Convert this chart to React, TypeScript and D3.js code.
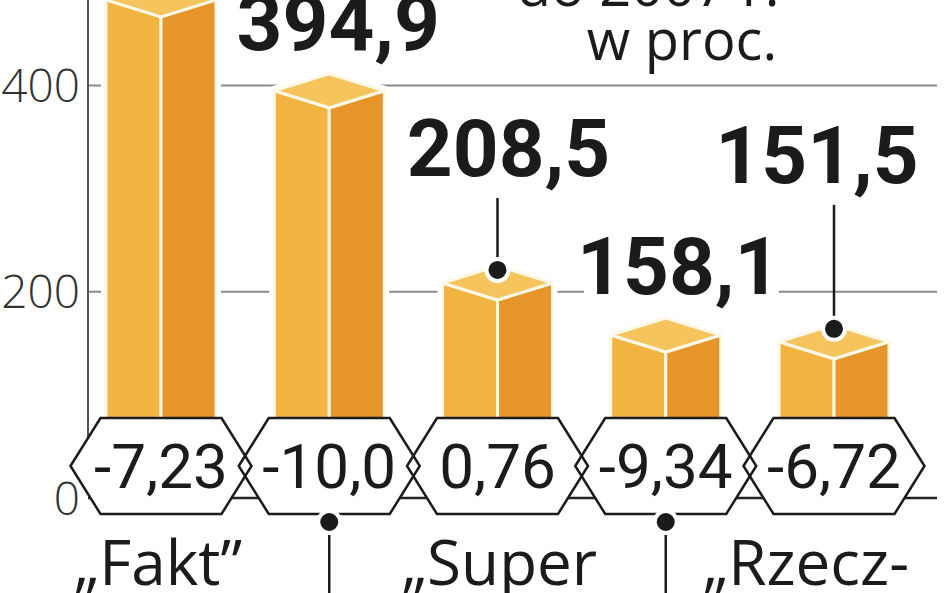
import React, { useEffect } from 'react';
import * as d3 from 'd3';

// sprzedaż dzienników (tys. egz.) i zmiana r/r w proc.
const titles = ['Fakt', 'Gazeta Wyborcza', 'Super Express', 'Dziennik', 'Rzeczpospolita'];
const sales = [483, 394.9, 208.5, 158.1, 151.5];
const changeLabels = ['-7,23', '-10,0', '0,76', '-9,34', '-6,72'];
const nameLines = [
  ['„Fakt”'],
  ['„Gazeta', 'Wyborcza”'],
  ['„Super', 'Express”'],
  ['„Dziennik”'],
  ['„Rzecz-', 'pospolita”'],
];
const yTicks = [0, 200, 400];
const noteLines = ['do 2007 r.', 'w proc.'];

const W = 948;
const H = 593;

const C_LEFT = '#f1b440';
const C_RIGHT = '#e6952a';
const C_TOP = '#f6c45c';
const INK = '#1b1b1b';

const fmt = d3.formatLocale({ decimal: ',', thousands: ' ', grouping: [3], currency: ['', ' zł'] }).format('.1f');

// how each value label sits: lift above the bar top, horizontal nudge, leader from top or from bottom
const labelLayout = [
  { lift: 60, dx: 0, leader: 'none' },
  { lift: 41, dx: 9, leader: 'below' },
  { lift: 107, dx: 11, leader: 'top' },
  { lift: 41, dx: 13, leader: 'below' },
  { lift: 159, dx: -17, leader: 'top' },
];
const nameDx = [-3, 0, 2, 0, -28];

const App: React.FC = () => {
  useEffect(() => {
    document.body.style.margin = '0';
  }, []);

  const x = d3.scalePoint<string>().domain(titles).range([161, 834]);
  const y = d3.scaleLinear().domain([0, 400]).range([498, 85.5]);

  const half = 55;   // half bar width
  const depth = 17;  // isometric top depth
  const hexHalf = 60.5;
  const hexTip = 30;
  const hexTop = 418;
  const hexBot = 514;
  const hexMid = (hexTop + hexBot) / 2;
  const axisX = 88;
  const gridEnd = 937;

  const pts = (a: [number, number][]) => a.map(p => p.join(',')).join(' ');

  return (
    <svg width={W} height={H} style={{ position: 'absolute', left: 0, top: 0, display: 'block', background: '#fff' }}>
      {/* note at top */}
      <g fontFamily="'Open Sans', sans-serif" fontSize={56} fill={INK} textAnchor="middle">
        <text x={648} y={6}>{noteLines[0]}</text>
        <text x={682} y={60}>{noteLines[1]}</text>
      </g>

      {/* grid lines */}
      <g>
        {yTicks.map(t => (
          <line key={t} x1={axisX} x2={gridEnd} y1={y(t)} y2={y(t)} stroke={t === 0 ? '#222' : '#8a8a8a'} strokeWidth={t === 0 ? 2.5 : 2} />
        ))}
      </g>

      {/* axis */}
      <line x1={axisX} x2={axisX} y1={0} y2={hexTop + 20} stroke="#555" strokeWidth={2} />
      <g fontFamily="'Open Sans', sans-serif" fontWeight={300} fontSize={46} fill="#333" textAnchor="end">
        {yTicks.map(t => (
          <text key={t} x={80} y={y(t)} dy="0.36em">{t}</text>
        ))}
      </g>

      {/* bars */}
      {sales.map((v, i) => {
        const cx = x(titles[i])!;
        const ty = y(v);
        const y0 = y(0);
        const left: [number, number][] = [[cx - half, ty], [cx, ty + depth], [cx, y0], [cx - half, y0]];
        const right: [number, number][] = [[cx, ty + depth], [cx + half, ty], [cx + half, y0], [cx, y0]];
        const top: [number, number][] = [[cx - half, ty], [cx, ty - depth], [cx + half, ty], [cx, ty + depth]];
        const outline: [number, number][] = [[cx - half, y0], [cx - half, ty], [cx, ty - depth], [cx + half, ty], [cx + half, y0]];
        return (
          <g key={i} strokeLinejoin="round">
            <polygon points={pts(outline)} fill="#fff" stroke="#fff" strokeWidth={10} />
            <polygon points={pts(left)} fill={C_LEFT} stroke="#fff8e6" strokeWidth={3} />
            <polygon points={pts(right)} fill={C_RIGHT} stroke="#fff8e6" strokeWidth={3} />
            <polygon points={pts(top)} fill={C_TOP} stroke="#fff8e6" strokeWidth={3} />
          </g>
        );
      })}

      {/* value labels */}
      <g fontFamily="Roboto, 'Liberation Sans', sans-serif" fontWeight={700} fontSize={80} fill={INK} textAnchor="middle"
        stroke="#fff" strokeWidth={26} strokeLinejoin="round" style={{ paintOrder: 'stroke' }}>
        {sales.map((v, i) => (
          <text key={i} x={x(titles[i])! + labelLayout[i].dx} y={y(v) - labelLayout[i].lift}>{fmt(v)}</text>
        ))}
      </g>

      {/* hexagons */}
      {(['fill', 'stroke'] as const).map(pass => (
        <g key={pass}>
          {changeLabels.map((_, i) => {
            const cx = x(titles[i])!;
            const hex: [number, number][] = [
              [cx - hexHalf - hexTip, hexMid], [cx - hexHalf, hexTop], [cx + hexHalf, hexTop],
              [cx + hexHalf + hexTip, hexMid], [cx + hexHalf, hexBot], [cx - hexHalf, hexBot],
            ];
            return pass === 'fill'
              ? <polygon key={i} points={pts(hex)} fill="#fff" stroke="none" />
              : <polygon key={i} points={pts(hex)} fill="none" stroke={INK} strokeWidth={2.5} strokeLinejoin="miter" />;
          })}
        </g>
      ))}
      <g fontFamily="Roboto, sans-serif" fontSize={62} fill={INK} textAnchor="middle">
        {changeLabels.map((s, i) => (
          <text key={i} x={x(titles[i])!} y={488}>{s}</text>
        ))}
      </g>

      {/* leaders */}
      {sales.map((v, i) => {
        const cx = x(titles[i])!;
        const lay = labelLayout[i];
        if (lay.leader === 'top') {
          const dotY = y(v) - 13;
          return (
            <g key={i}>
              <line x1={cx} x2={cx} y1={y(v) - lay.lift + 22} y2={dotY} stroke={INK} strokeWidth={2.5} />
              <circle cx={cx} cy={dotY} r={11} fill={INK} stroke="#fff" strokeWidth={4} />
            </g>
          );
        }
        if (lay.leader === 'below') {
          const dotY = hexBot + 8;
          return (
            <g key={i}>
              <line x1={cx} x2={cx} y1={dotY} y2={H + 20} stroke={INK} strokeWidth={2.5} />
              <circle cx={cx} cy={dotY} r={11} fill={INK} stroke="#fff" strokeWidth={4} />
            </g>
          );
        }
        return null;
      })}

      {/* category names */}
      <g fontFamily="'Open Sans', sans-serif" fontSize={62} fill={INK} textAnchor="middle">
        {nameLines.map((lines, i) => {
          const below = labelLayout[i].leader === 'below';
          const base = below ? 690 : 585;
          return lines.map((ln, k) => (
            <text key={i + '-' + k} x={x(titles[i])! + nameDx[i]} y={base + k * 58}>{ln}</text>
          ));
        })}
      </g>
    </svg>
  );
};

export default App;
